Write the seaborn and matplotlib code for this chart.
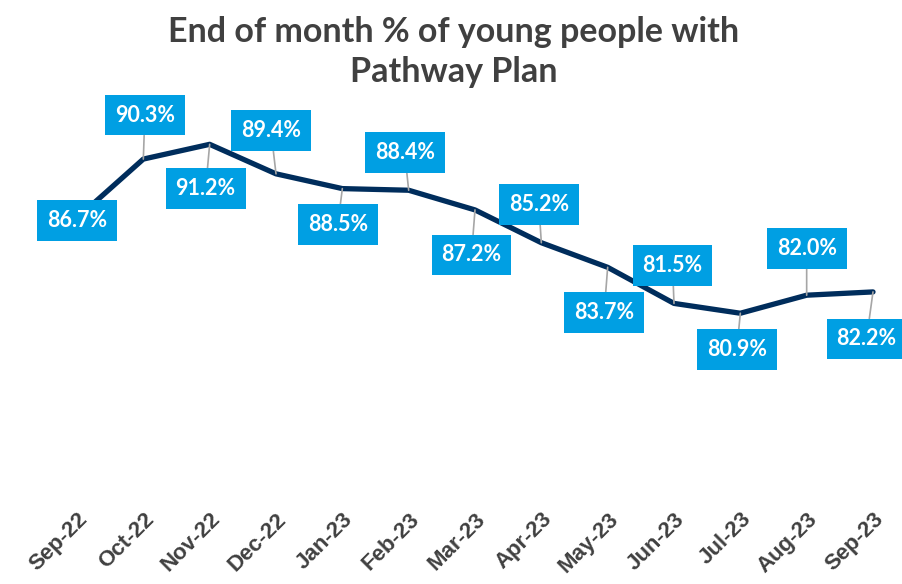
import matplotlib
matplotlib.use("Agg")
import matplotlib.pyplot as plt
import seaborn as sns
import pandas as pd

months = ["Sep-22", "Oct-22", "Nov-22", "Dec-22", "Jan-23", "Feb-23", "Mar-23",
          "Apr-23", "May-23", "Jun-23", "Jul-23", "Aug-23", "Sep-23"]
pct_with_plan = [86.7, 90.3, 91.2, 89.4, 88.5, 88.4, 87.2, 85.2, 83.7, 81.5, 80.9, 82.0, 82.2]

# label box offsets from each point, in pixels (dx, dy)
label_offsets = [(0, -2), (1.5, 44), (-4, -44), (-5, 43), (-4.5, -36), (-4, 38), (-3.5, -45),
                 (-2.5, 38), (-3.5, -45), (-1.5, 38), (-3.5, -36), (0, 47), (-6.5, -47)]

df = pd.DataFrame({"idx": range(len(months)), "month": months, "value": pct_with_plan})

sns.set_theme(style="white")
plt.rcParams["font.family"] = ["Lato", "DejaVu Sans"]

W, H = 903, 584
fig = plt.figure(figsize=(W / 100, H / 100), dpi=100)
ax = fig.add_axes([77 / W, (H - 492) / H, 796 / W, 410 / H])

sns.lineplot(data=df, x="idx", y="value", ax=ax, color="#002D5C", linewidth=3.8,
             solid_capstyle="round", solid_joinstyle="round", clip_on=False, zorder=2)

ax.set_xlim(0, len(months) - 1)
ax.set_ylim(70, 95)
ax.set_xticks(range(len(months)))
ax.set_xticklabels(months, rotation=45, ha="right", rotation_mode="anchor",
                   fontsize=16, fontweight="bold", color="#404040",
                   family=["Liberation Sans", "DejaVu Sans"])
ax.tick_params(axis="x", length=0, pad=12)
ax.set_yticks([])
ax.set_xlabel("")
ax.set_ylabel("")
for s in ax.spines.values():
    s.set_visible(False)

for i, (v, (dx, dy)) in enumerate(zip(pct_with_plan, label_offsets)):
    ax.annotate(f"{v:.1f}%", xy=(i, v), xytext=(dx, dy), textcoords="offset pixels",
                ha="center", va="center", fontsize=15.5, fontweight="bold", color="white",
                bbox=dict(boxstyle="square,pad=0.46", fc="#009FE3", ec="none"),
                arrowprops=dict(arrowstyle="-", color="#A6A6A6", lw=1.2,
                                shrinkA=0, shrinkB=0),
                zorder=5, annotation_clip=False)

title_lines = ["End of month % of young people with", "Pathway Plan"]
for line, base_px in zip(title_lines, [42, 82]):
    fig.text(454 / W, 1 - base_px / H, line, ha="center", va="baseline",
             fontsize=24.5, fontweight="bold", color="#404040")

fig.savefig("out.png", dpi=100)
